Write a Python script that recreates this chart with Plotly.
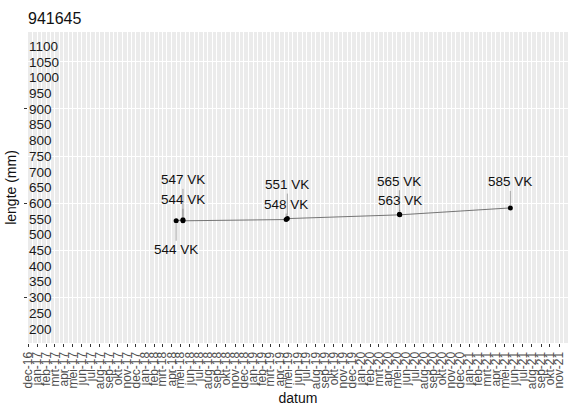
import pandas as pd
import plotly.graph_objects as go

# Meetgegevens vis 941645
vis_id = "941645"
meet_datum = ["2018-04-16", "2018-05-09", "2018-05-09", "2019-04-23",
              "2019-04-27", "2020-05-10", "2020-05-11", "2021-05-20"]
lengte_mm = [544, 547, 544, 548, 551, 565, 563, 585]
code = ["VK", "VK", "VK", "VK", "VK", "VK", "VK", "VK"]

# y-as labels en rasterlijnen
y_labels = list(range(200, 1101, 50))
y_major = [300, 600, 900]
y_minor = [450, 750, 1050]

# x-as: maandlabels in het Nederlands
maand_nl = ["jan", "feb", "mrt", "apr", "mei", "jun",
            "jul", "aug", "sep", "okt", "nov", "dec"]
maanden = pd.date_range("2016-12-01", "2021-11-01", freq="MS")
x_tickvals = [d.strftime("%Y-%m-%d") for d in maanden]
x_ticktext = [f"{maand_nl[d.month - 1]}-{d.strftime('%y')}" for d in maanden]
x_minor = [(d + pd.Timedelta(days=15)).strftime("%Y-%m-%d") for d in maanden]

# verticale verschuiving (px) van de labels t.o.v. hun punt
label_dy = [29, -40, -21, -15, -34, -33, -14, -26]

fig = go.Figure()
fig.add_trace(go.Scatter(
    x=meet_datum, y=lengte_mm, mode="lines+markers",
    line=dict(color="#555555", width=0.8),
    marker=dict(color="black", size=5),
    hoverinfo="x+y", showlegend=False,
))
# lege trace zodat de label-as binnen het paneel wordt getekend
fig.add_trace(go.Scatter(x=[], y=[], yaxis="y2", showlegend=False,
                         hoverinfo="skip"))

for d, v, c, dy in zip(meet_datum, lengte_mm, code, label_dy):
    fig.add_annotation(
        x=d, y=v, text=f"{v} {c}", showarrow=True, arrowhead=0,
        arrowwidth=0.6, arrowcolor="#777777", ax=0, ay=dy, standoff=3,
        font=dict(size=13.5, color="#111111"),
    )

font = "Liberation Sans, Arial, sans-serif"
fig.update_layout(
    width=581, height=406,
    margin=dict(l=28, r=13, t=32, b=63),
    paper_bgcolor="white", plot_bgcolor="#EBEBEB",
    font=dict(family=font, color="#111111"),
    title=dict(text=vis_id, x=0, xref="paper", xanchor="left",
               y=1 - 18 / 406, yref="container", yanchor="middle",
               font=dict(size=16, color="#111111")),
    xaxis=dict(
        type="date", range=["2016-12-01", "2021-12-01"],
        tickmode="array", tickvals=x_tickvals, ticktext=x_ticktext,
        tickangle=-90, ticks="outside", ticklen=3, tickcolor="#333333",
        tickfont=dict(size=12, color="#4D4D4D"),
        showgrid=True, gridcolor="white", gridwidth=1,
        minor=dict(tickmode="array", tickvals=x_minor, showgrid=True,
                   gridcolor="white", gridwidth=0.5, ticks=""),
        zeroline=False, showline=False, automargin=False,
        title=dict(text="datum", font=dict(size=14, color="#111111")),
    ),
    yaxis=dict(
        range=[155, 1145], tickmode="array", tickvals=y_major,
        showticklabels=False, ticks="outside", ticklen=3,
        tickcolor="#333333",
        showgrid=True, gridcolor="white", gridwidth=1,
        minor=dict(tickmode="array", tickvals=y_minor, showgrid=True,
                   gridcolor="white", gridwidth=0.5, ticks=""),
        zeroline=False, showline=False, automargin=False,
        title=dict(text="lengte (mm)", font=dict(size=14, color="#111111"),
                   standoff=4),
    ),
    yaxis2=dict(
        overlaying="y", anchor="free", position=0, side="right",
        range=[155, 1145], tickmode="array", tickvals=y_labels,
        ticks="", showgrid=False, zeroline=False, showline=False,
        automargin=False,
        tickfont=dict(size=13.5, color="#1A1A1A"),
    ),
)

fig.write_html("out.html")
